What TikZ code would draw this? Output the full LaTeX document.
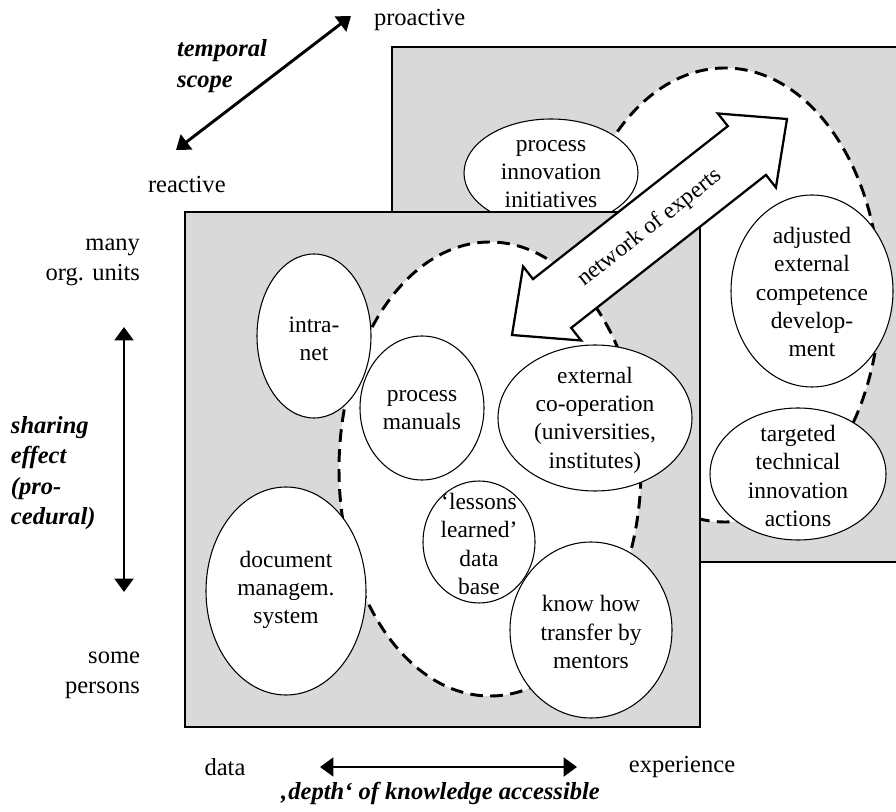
\documentclass[tikz,border=0pt]{standalone}
\usepackage{fontspec}
\setmainfont{Liberation Serif}
\usetikzlibrary{arrows.meta,shapes.geometric}
\definecolor{panel}{RGB}{217,217,217}
\begin{document}
\begin{tikzpicture}[x=0.75pt,y=-0.75pt,
  every node/.style={inner sep=0pt, outer sep=0pt},
  ell/.style 2 args={minimum width=#1*0.75pt, minimum height=#2*0.75pt},
  panelbox/.style={rectangle, draw=black, line width=0.8pt, fill=panel},
  zone/.style={ellipse, draw=black, fill=white, line width=2.2pt, dash pattern=on 9.5pt off 5.5pt},
  bubble/.style={ellipse, draw=black, fill=white, line width=0.8pt},
  lbl/.style={align=center, font=\fontsize{17.6pt}{21.2pt}\selectfont},
  axislbl/.style={font=\fontsize{18.4pt}{22.5pt}\selectfont},
  axistitle/.style={align=left, font=\fontsize{18.4pt}{22.8pt}\selectfont\bfseries\itshape},
  dimarrow/.style={line width=2.2pt, {Triangle[length=10pt,width=14pt]}-{Triangle[length=10pt,width=14pt]}},
  blockarrow/.style={draw=black, fill=white, line width=1.7pt, line join=miter}
]
\useasboundingbox (0,0) rectangle (896,812);
\clip (0,0) rectangle (896,812);

% ---------- back panel ----------
\node[panelbox, anchor=north west, ell={515}{515}] (backpanel) at (392,47) {};
\node[zone, ell={310}{454}] (backzone) at (725,295) {};
\node[bubble, ell={174}{108}] (procinno) at (551,173) {};
\node[lbl] (procinnotxt) at (551,174) {process\\innovation\\initiatives};
\node[bubble, ell={162}{192}] (adjusted) at (812,291) {};
\node[lbl] (adjustedtxt) at (812,292) {adjusted\\external\\competence\\develop-\\ment};
\node[bubble, ell={176}{132}] (targeted) at (798,474) {};
\node[lbl] (targetedtxt) at (798,476) {targeted\\technical\\innovation\\actions};

% ---------- front panel ----------
\node[panelbox, anchor=north west, ell={515}{515}] (frontpanel) at (185,212) {};
\node[zone, ell={302}{454}] (frontzone) at (490,469) {};
\node[bubble, ell={114}{164}] (intranet) at (314,336) {};
\node[lbl] (intranettxt) at (314,339) {intra-\\net};
\node[bubble, ell={124}{144}] (manuals) at (422,408) {};
\node[lbl] (manualstxt) at (422,410) {process\\manuals};
\node[bubble, ell={194}{146}] (external) at (595,418) {};
\node[lbl] (externaltxt) at (595,420) {external\\co-operation\\(universities,\\institutes)};
\node[bubble, ell={112}{122}] (lessons) at (479,542) {};
\node[lbl] (lessonstxt) at (479,544) {‘lessons\\learned’\\data\\base};
\node[bubble, ell={160}{208}] (docmgmt) at (286,591) {};
\node[lbl] (docmgmttxt) at (286,590) {document\\managem.\\system};
\node[bubble, ell={162}{176}] (knowhow) at (591,630) {};
\node[lbl] (knowhowtxt) at (591,632) {know how\\transfer by\\mentors};

% ---------- network of experts block arrow ----------
\coordinate (aR) at (787.0,119.0);
\coordinate (aR1) at (717.9,113.5);
\coordinate (aR2) at (775.9,187.5);
\coordinate (aRup) at (727.8,126.1);
\coordinate (aRlow) at (766.0,174.9);
\coordinate (aL) at (512.0,335.0);
\coordinate (aL1) at (523.1,266.5);
\coordinate (aL2) at (581.1,340.5);
\coordinate (aLup) at (533.0,279.1);
\coordinate (aLlow) at (571.2,327.9);
\draw[blockarrow] (aR) -- (aR2) -- (aRlow) -- (aLlow) -- (aL2) -- (aL) -- (aL1) -- (aLup) -- (aRup) -- (aR1) -- cycle;
\node[lbl, rotate=38.15] (network) at (650,228) {network of experts};

% ---------- temporal scope ----------
\node[axislbl, anchor=west] (proactive) at (374,20) {proactive};
\node[axislbl, anchor=west] (reactive) at (148,185) {reactive};
\node[axistitle, anchor=west] (temporal) at (177,66) {temporal\\scope};
\coordinate (tlow) at (176,150);
\coordinate (thigh) at (351,16);
\draw[dimarrow] (tlow) -- (thigh);

% ---------- sharing effect ----------
\node[axislbl, align=right, anchor=east] (many) at (140,262) {many\\org. units};
\node[axislbl, align=right, anchor=east] (some) at (140,675) {some\\persons};
\node[axistitle, anchor=west] (sharing) at (11,473) {sharing\\effect\\(pro-\\cedural)};
\coordinate (shtop) at (124,327);
\coordinate (shbot) at (124,592);
\draw[dimarrow] (shtop) -- (shbot);

% ---------- depth of knowledge ----------
\node[axislbl] (data) at (225,767) {data};
\node[axislbl] (experience) at (682,767) {experience};
\node[axislbl, font=\fontsize{18.4pt}{22.5pt}\selectfont\bfseries\itshape] (depth) at (440,793) {‚depth‘ of knowledge accessible};
\coordinate (dleft) at (320,767);
\coordinate (dright) at (577,767);
\draw[dimarrow] (dleft) -- (dright);
\end{tikzpicture}
\end{document}
